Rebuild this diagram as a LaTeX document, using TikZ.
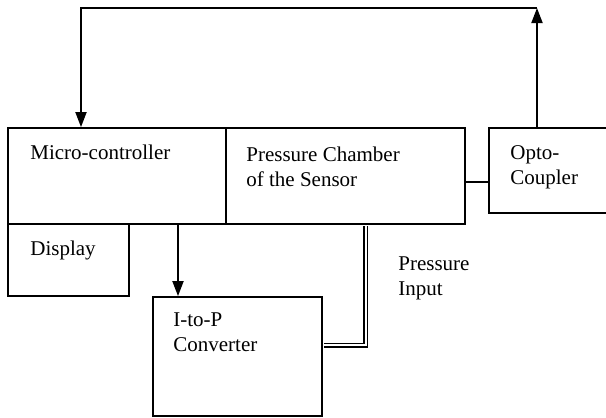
\documentclass[tikz,border=0pt]{standalone}
\usepackage{fontspec}
\setmainfont{Liberation Serif}
\usetikzlibrary{calc,arrows.meta}

\begin{document}
\begin{tikzpicture}[x=0.5pt,y=-0.5pt,>={Triangle[length=7.5pt,width=5.5pt]},
  blk/.style={draw,line width=0.9pt,inner sep=0pt},
  lbl/.style={anchor=north west,align=left,inner sep=0pt,font=\fontsize{10.5}{12.5}\selectfont},
  wire/.style={line width=0.9pt},
  pipe/.style={line width=0.75pt,double,double distance=1pt,shorten <=0.45pt,shorten >=0.45pt}]
  \useasboundingbox (0,0) rectangle (606,418);

  \node[blk,minimum width=109pt,minimum height=48pt] (mc) at (117,176) {};
  \node[blk,minimum width=119.5pt,minimum height=48pt] (chamber) at (345.5,176) {};
  \node[blk,minimum width=75.5pt,minimum height=42.5pt] (opto) at (564.5,170.5) {};
  \node[blk,minimum width=60.5pt,minimum height=36pt] (display) at (68.5,260) {};
  \node[blk,minimum width=84.5pt,minimum height=59.5pt] (itop) at (237.5,356.5) {};

  \node[lbl] (mctxt) at (30,144.5) {Micro-controller};
  \node[lbl] (dsptxt) at (30,240.5) {Display};
  \node[lbl] (chtxt) at (246,146.5) {Pressure Chamber\\of the Sensor};
  \node[lbl] (optxt) at (510,145.5) {Opto-\\Coupler};
  \node[lbl] (iptxt) at (173,312.5) {I-to-P\\Converter};
  \node[lbl] (pintxt) at (398,256.5) {Pressure\\Input};

  \coordinate (fbR) at (537,8);
  \coordinate (fbL) at (81,8);
  \coordinate (tap) at (178,260);
  \coordinate (lnk) at (477,182);
  \coordinate (bend) at (365.5,345);

  \draw[wire,->] (fbR |- opto.north) -- (fbR);
  \draw[wire,->] (fbR) -- (fbL) -- (fbL |- mc.north);
  \draw[wire,->] (tap |- mc.south) -- (tap |- itop.north);
  \draw[wire] (lnk -| chamber.east) -- (lnk -| opto.west);
  \draw[pipe] (bend |- chamber.south) -- (bend) -- (bend -| itop.east);
\end{tikzpicture}
\end{document}
